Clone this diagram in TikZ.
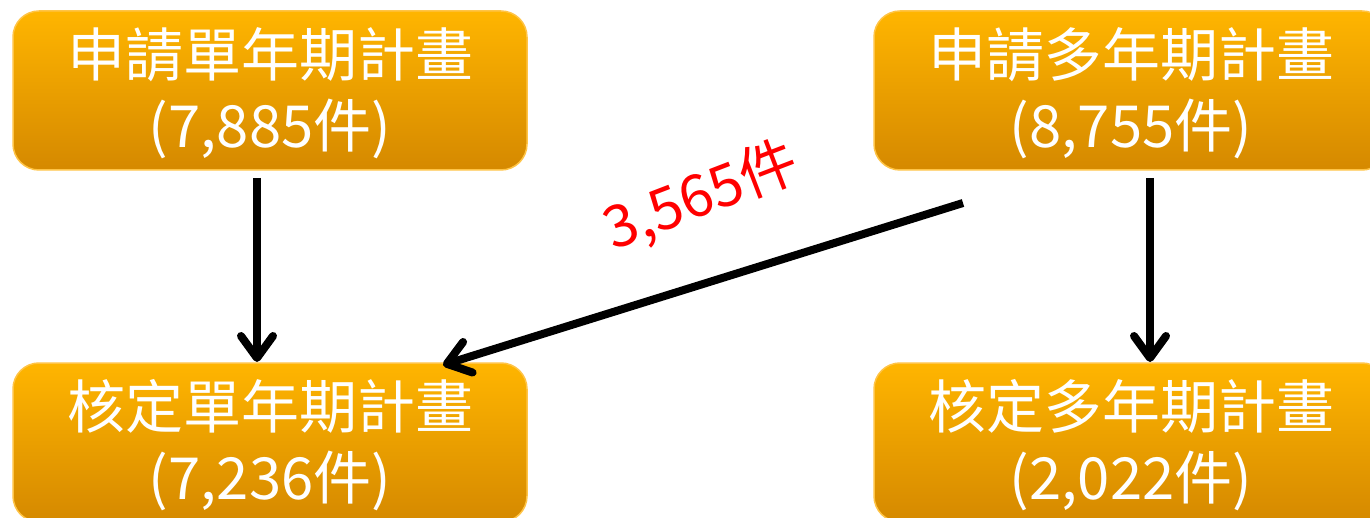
\documentclass[tikz,border=0pt]{standalone}
\usepackage{fontspec}
\setmainfont{Noto Sans CJK TC}
\usetikzlibrary{arrows.meta}
\definecolor{otop}{RGB}{255,181,0}
\definecolor{obot}{RGB}{213,137,0}
\definecolor{oedge}{RGB}{255,196,70}
\begin{document}
\begin{tikzpicture}[x=1pt,y=-1pt,
  box/.style={rounded corners=26pt, top color=otop, bottom color=obot, draw=oedge, line width=1.5pt,
    minimum width=514pt, minimum height=159pt, inner sep=0pt},
  btext/.style={text=white, align=center, font=\fontsize{58}{71}\selectfont, inner sep=0pt},
  arr/.style={line width=8pt, -{Straight Barb[length=22pt, width=32pt, line cap=round, line join=round]}},
  lbl/.style={text=red, font=\fontsize{58}{60}\selectfont, inner sep=0pt}]
\clip (0,0) rectangle (1370,518);
\fill[white] (0,0) rectangle (1370,518);
\node[box] (b1) at (270,90.5) {};
\node[box] (b2) at (1131,90.5) {};
\node[box] (b3) at (270,442.5) {};
\node[box] (b4) at (1131,442.5) {};
\path (b1.center) ++(0,2.5) node[btext] (t1) {申請單年期計畫\\(7,885件)};
\path (b2.center) ++(0,2.5) node[btext] (t2) {申請多年期計畫\\(8,755件)};
\path (b3.center) ++(0,2.5) node[btext] (t3) {核定單年期計畫\\(7,236件)};
\path (b4.center) ++(0,2.5) node[btext] (t4) {核定多年期計畫\\(2,022件)};
\coordinate (a1s) at (257,178);
\coordinate (a1e) at (257,362);
\coordinate (a2s) at (1150,178);
\coordinate (a2e) at (1150,362);
\coordinate (a3s) at (963,203);
\coordinate (a3e) at (443,365);
\draw[arr] (a1s) -- (a1e);
\draw[arr] (a2s) -- (a2e);
\draw[arr] (a3s) -- (a3e);
\node[lbl, rotate=21] (l) at (701,197) {3,565件};
\end{tikzpicture}
\end{document}
